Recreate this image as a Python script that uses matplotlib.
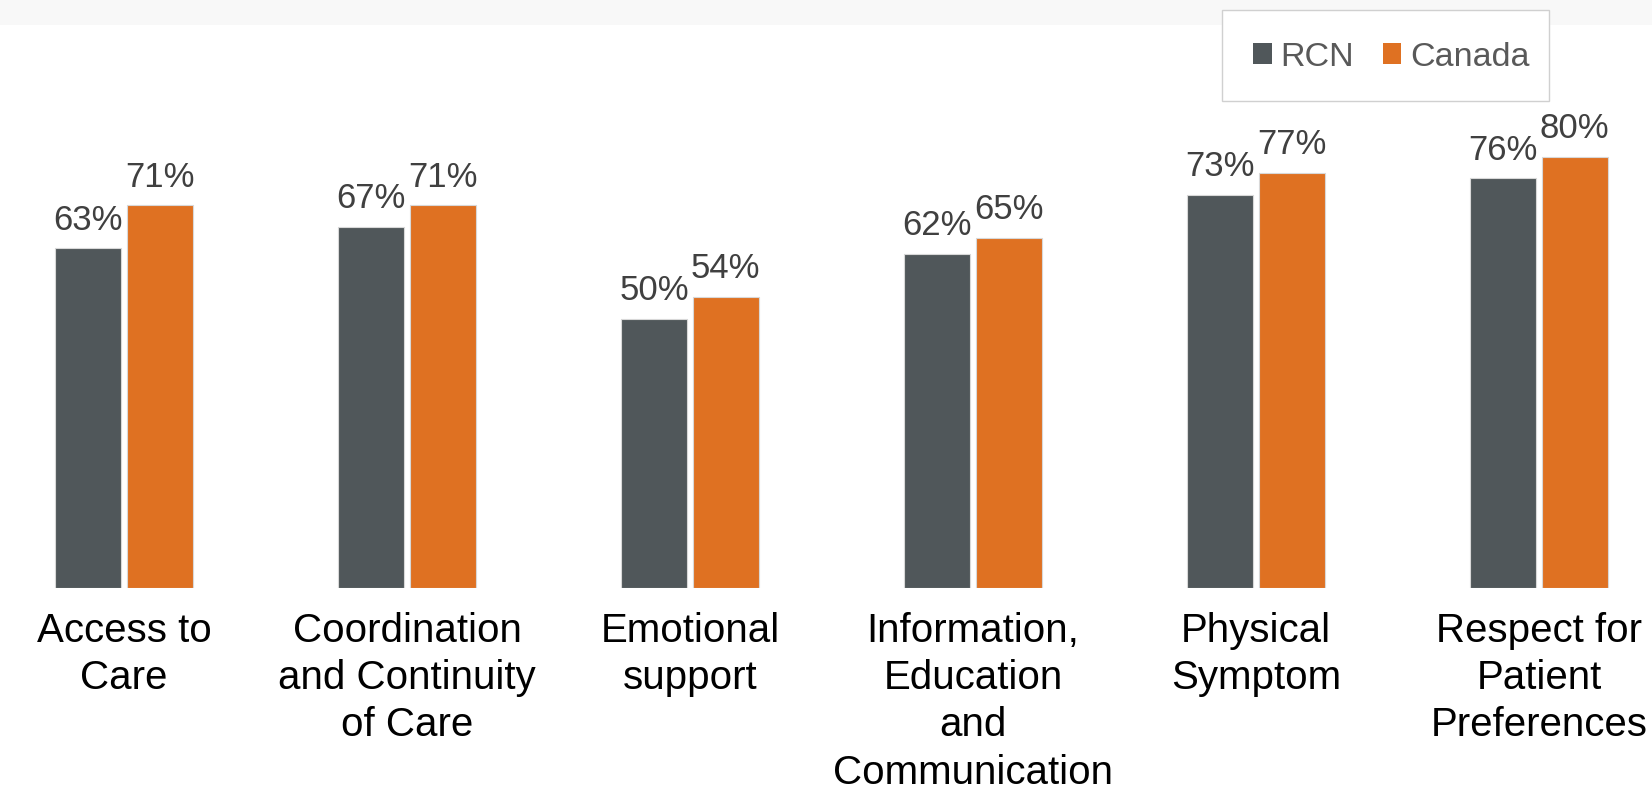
import matplotlib
matplotlib.use("Agg")
import matplotlib.pyplot as plt
from matplotlib.patches import Patch, Rectangle
import numpy as np

plt.rcParams['font.family'] = ['Liberation Sans', 'DejaVu Sans']

categories = [
    "Access to\nCare",
    "Coordination\nand Continuity\nof Care",
    "Emotional\nsupport",
    "Information,\nEducation\nand\nCommunication",
    "Physical\nSymptom",
    "Respect for\nPatient\nPreferences",
]
rcn = [63, 67, 50, 62, 73, 76]
canada = [71, 71, 54, 65, 77, 80]
series_names = ["RCN", "Canada"]

RCN_COLOR = "#50575A"
CAN_COLOR = "#DF7122"
LABEL_COLOR = "#404040"

W, H = 1652, 788
fig = plt.figure(figsize=(W / 100, H / 100), dpi=100)
fig.patch.set_facecolor("white")

# faint band along the top edge
fig.patches.append(Rectangle((0, 1 - 25 / H), 1, 25 / H, transform=fig.transFigure,
                             facecolor="#f8f8f8", edgecolor="none", zorder=0))

bottom_px = H - 588
ax = fig.add_axes([0, bottom_px / H, 1, 1 - bottom_px / H])
ax.set_facecolor("none")

x = np.arange(len(categories))
bw = 0.233
off = 0.126
b1 = ax.bar(x - off, rcn, bw, color=RCN_COLOR, edgecolor="#d8d8d8", linewidth=0.8)
b2 = ax.bar(x + off, canada, bw, color=CAN_COLOR, edgecolor="#d8d8d8", linewidth=0.8)

for bars, vals in ((b1, rcn), (b2, canada)):
    for rect, v in zip(bars, vals):
        ax.annotate(f"{v}%", (rect.get_x() + rect.get_width() / 2, v),
                    xytext=(0, 13.5), textcoords="offset points",
                    ha="center", va="baseline", fontsize=25, color=LABEL_COLOR)

ax.set_xlim(-124 / 283, (W - 124) / 283)
ax.set_ylim(0, 588 / 5.39)
ax.set_xticks(x)
ax.set_xticklabels(categories, fontsize=29, color="black", linespacing=1.31)
ax.tick_params(axis="x", length=0, pad=17)
ax.set_yticks([])
for s in ax.spines.values():
    s.set_visible(False)
for lbl in ax.get_xticklabels():
    lbl.set_clip_on(False)

# legend box outline
fig.patches.append(Rectangle((1222 / W, 1 - 101 / H), (1549 - 1222) / W, 91 / H,
                             transform=fig.transFigure, facecolor="white",
                             edgecolor="#d0d0d0", linewidth=1.0, zorder=1))
handles = [Patch(facecolor=RCN_COLOR, edgecolor="none"),
           Patch(facecolor=CAN_COLOR, edgecolor="none")]
leg = fig.legend(handles, series_names, loc="center left",
                 bbox_to_anchor=(1253 / W, 1 - 57 / H), bbox_transform=fig.transFigure,
                 ncol=2, fontsize=24.5, frameon=False,
                 handlelength=0.55, handleheight=0.55, handletextpad=0.25,
                 columnspacing=0.85, borderpad=0, borderaxespad=0)
leg.set_zorder(2)
for t in leg.get_texts():
    t.set_color("#595959")

fig.savefig("out.png", dpi=100)
